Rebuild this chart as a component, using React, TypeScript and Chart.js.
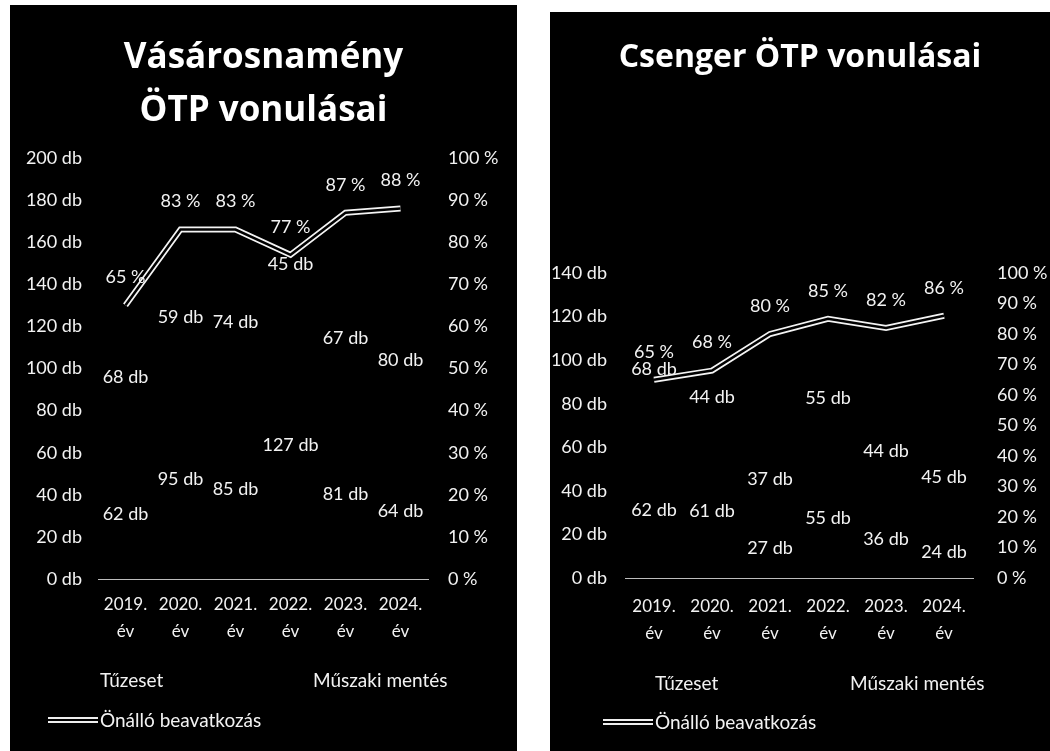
import React, { useEffect, useRef } from 'react';
import { Chart, registerables } from 'chart.js';

Chart.register(...registerables);

// ---- data ----
const years = ['2019.', '2020.', '2021.', '2022.', '2023.', '2024.'];
const yearWord = 'év';

const vasTitle = ['Vásárosnamény', 'ÖTP vonulásai'];
const vasTuzeset = [62, 95, 85, 127, 81, 64];
const vasMuszaki = [68, 59, 74, 45, 67, 80];
const vasOnallo = [65, 83, 83, 77, 87, 88];

const csTitle = ['Csenger ÖTP vonulásai'];
const csTuzeset = [62, 61, 27, 55, 36, 24];
const csMuszaki = [68, 44, 37, 55, 44, 45];
const csOnallo = [65, 68, 80, 85, 82, 86];

const seriesNames = ['Tűzeset', 'Műszaki mentés', 'Önálló beavatkozás'];

const TEXT = '#f2f2f2';
const FONT = 'Lato';

const valueLabels = {
  id: 'valueLabels',
  afterDatasetsDraw(chart: any) {
    const ctx = chart.ctx;
    ctx.save();
    ctx.font = `18px ${FONT}`;
    ctx.fillStyle = TEXT;
    ctx.textAlign = 'center';
    ctx.textBaseline = 'middle';
    chart.data.datasets.forEach((ds: any, di: number) => {
      const meta = chart.getDatasetMeta(di);
      if (ds.labelKind === 'bar') {
        meta.data.forEach((el: any, i: number) => {
          const p = el.getProps(['x', 'y', 'base'], true);
          ctx.fillText(`${ds.data[i]} db`, p.x, (p.y + p.base) / 2);
        });
      } else if (ds.labelKind === 'pct') {
        meta.data.forEach((el: any, i: number) => {
          ctx.fillText(`${ds.data[i]} %`, el.x, el.y - 28);
        });
      }
    });
    ctx.restore();
  },
};

type PanelProps = {
  title: string[];
  tuz: number[];
  musz: number[];
  onallo: number[];
  yMax: number;
  geo: any;
};

function Panel({ title, tuz, musz, onallo, yMax, geo }: PanelProps) {
  const ref = useRef<HTMLCanvasElement>(null);
  useEffect(() => {
    const chart = new Chart(ref.current as HTMLCanvasElement, {
      type: 'bar',
      data: {
        labels: years.map((y) => [y, yearWord]),
        datasets: [
          {
            label: seriesNames[0],
            data: tuz,
            backgroundColor: '#000000',
            borderWidth: 0,
            yAxisID: 'y',
            order: 3,
            labelKind: 'bar',
          } as any,
          {
            label: seriesNames[1],
            data: musz,
            backgroundColor: '#000000',
            borderWidth: 0,
            yAxisID: 'y',
            order: 3,
            labelKind: 'bar',
          } as any,
          {
            type: 'line',
            label: seriesNames[2],
            data: onallo,
            borderColor: '#f4f4f4',
            borderWidth: 6,
            pointRadius: 0,
            tension: 0,
            yAxisID: 'y1',
            order: 2,
            labelKind: 'pct',
          } as any,
          {
            type: 'line',
            label: seriesNames[2] + ' (inner)',
            data: onallo,
            borderColor: '#000000',
            borderWidth: 2.5,
            pointRadius: 0,
            tension: 0,
            yAxisID: 'y1',
            order: 1,
          } as any,
        ],
      },
      options: {
        animation: false,
        responsive: false,
        maintainAspectRatio: false,
        layout: { padding: { top: 0, left: 0, right: 0, bottom: geo.padBottom } },
        plugins: {
          legend: { display: false },
          tooltip: { enabled: false },
          title: {
            display: true,
            text: title,
            color: '#ffffff',
            font: { family: 'Open Sans', size: geo.titleSize, weight: 'bold', lineHeight: 1.5 },
            padding: { top: geo.titleTop, bottom: geo.titleBottom },
          },
        },
        scales: {
          x: {
            stacked: true,
            grid: { display: false, drawTicks: false },
            border: { display: true, color: '#bdbdbd', width: 1 },
            ticks: {
              color: TEXT,
              font: { family: FONT, size: 17, lineHeight: 1.6 },
              padding: geo.xPad,
              maxRotation: 0,
              autoSkip: false,
            },
            afterFit: (s: any) => {
              s.height = 80;
            },
          },
          y: {
            stacked: true,
            position: 'left',
            min: 0,
            max: yMax,
            grid: { display: false, drawTicks: false },
            border: { display: false },
            ticks: {
              stepSize: 20,
              color: TEXT,
              font: { family: FONT, size: 18 },
              padding: geo.yPad,
              callback: (v: any) => `${v} db`,
            },
            afterFit: (s: any) => {
              s.width = geo.yWidth;
            },
          },
          y1: {
            position: 'right',
            min: 0,
            max: 100,
            grid: { display: false, drawTicks: false },
            border: { display: false },
            ticks: {
              stepSize: 10,
              color: TEXT,
              font: { family: FONT, size: 18 },
              padding: geo.y1Pad,
              callback: (v: any) => `${v} %`,
            },
            afterFit: (s: any) => {
              s.width = geo.y1Width;
            },
          },
        },
      } as any,
      plugins: [valueLabels],
    });
    return () => chart.destroy();
  }, []);

  const legendText: React.CSSProperties = {
    position: 'absolute',
    color: TEXT,
    fontFamily: FONT,
    fontSize: 19,
    lineHeight: '22px',
    whiteSpace: 'nowrap',
  };

  return (
    <div
      style={{
        position: 'absolute',
        left: geo.left,
        top: geo.top,
        width: geo.width,
        height: geo.height,
        background: '#000',
        overflow: 'hidden',
      }}
    >
      <canvas
        ref={ref}
        width={geo.width}
        height={geo.height}
        style={{ display: 'block', width: geo.width, height: geo.height }}
      />
      <span style={{ ...legendText, left: geo.legX1, top: geo.legY1 - 11 }}>{seriesNames[0]}</span>
      <span style={{ ...legendText, left: geo.legX2, top: geo.legY1 - 11 }}>{seriesNames[1]}</span>
      <div
        style={{
          position: 'absolute',
          left: geo.legX1 - 52,
          top: geo.legY2 - 3,
          width: 50,
          height: 2,
          background: '#000',
          borderTop: '2px solid #eee',
          borderBottom: '2px solid #eee',
        }}
      />
      <span style={{ ...legendText, left: geo.legX1, top: geo.legY2 - 11 }}>{seriesNames[2]}</span>
    </div>
  );
}

const vasGeo = {
  left: 10,
  top: 5,
  width: 507,
  height: 746,
  padBottom: 92,
  titleSize: 35,
  titleTop: 27,
  titleBottom: 21,
  xPad: 12,
  yWidth: 88,
  y1Width: 89,
  yPad: 16,
  y1Pad: 20,
  legX1: 90,
  legX2: 303,
  legY1: 675,
  legY2: 715,
};

const csGeo = {
  left: 550,
  top: 12,
  width: 500,
  height: 739,
  padBottom: 93,
  titleSize: 32,
  titleTop: 22,
  titleBottom: 191,
  xPad: 15,
  yWidth: 75,
  y1Width: 77,
  yPad: 18,
  y1Pad: 24,
  legX1: 105,
  legX2: 300,
  legY1: 671,
  legY2: 710,
};

export default function App() {
  return (
    <div>
      <Panel title={vasTitle} tuz={vasTuzeset} musz={vasMuszaki} onallo={vasOnallo} yMax={200} geo={vasGeo} />
      <Panel title={csTitle} tuz={csTuzeset} musz={csMuszaki} onallo={csOnallo} yMax={140} geo={csGeo} />
    </div>
  );
}
